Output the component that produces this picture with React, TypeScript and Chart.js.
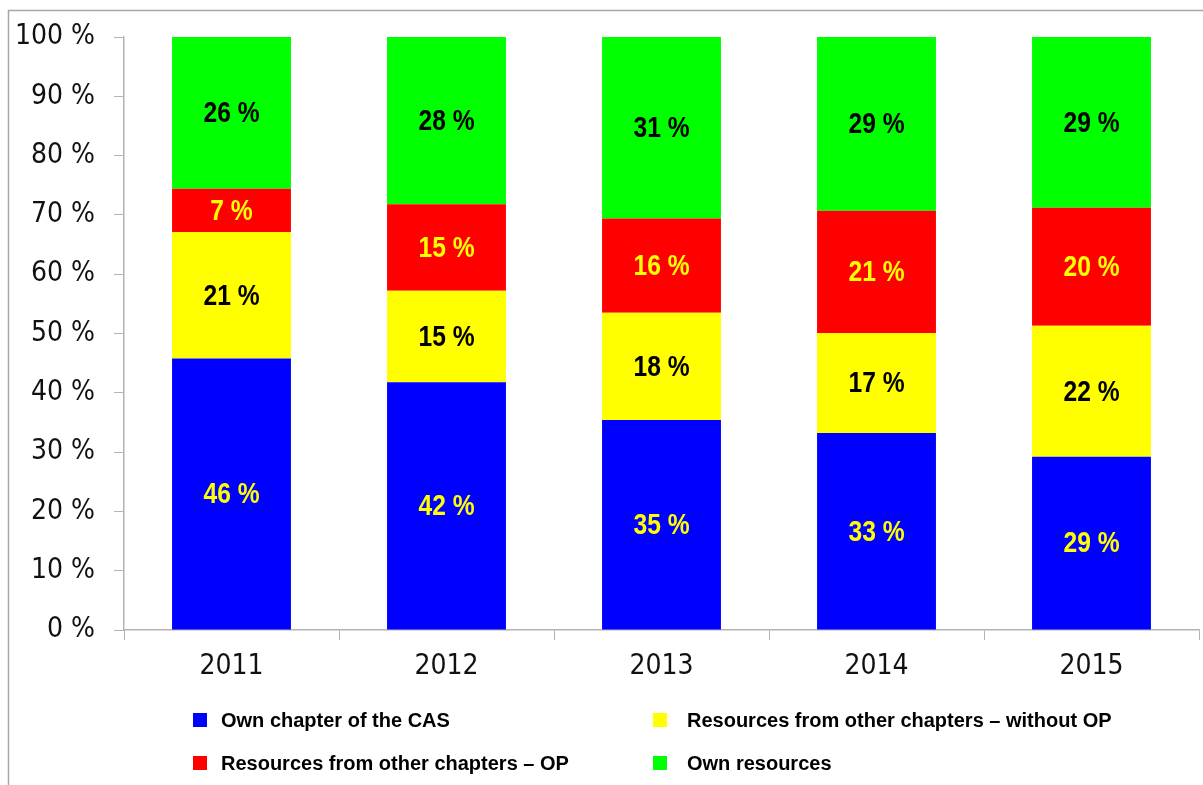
import React, { useEffect, useRef } from "react";
import { Chart, registerables } from "chart.js";

Chart.register(...registerables);

const years = ["2011", "2012", "2013", "2014", "2015"];
const ownChapter = [45.8, 41.8, 35.4, 33.2, 29.2];
const otherWithoutOP = [21.3, 15.4, 18.1, 16.9, 22.1];
const otherOP = [7.3, 14.6, 15.9, 20.6, 19.9];
const ownResources = [25.6, 28.2, 30.6, 29.3, 28.8];
const seriesNames = [
  "Own chapter of the CAS",
  "Resources from other chapters – without OP",
  "Resources from other chapters – OP",
  "Own resources",
];
const seriesColors = ["#0000FF", "#FFFF00", "#FF0000", "#00FF00"];
const labelColors = ["#FFFF00", "#000000", "#FFFF00", "#000000"];

const NARROW = "'DejaVu Sans Condensed', 'Liberation Sans Narrow', sans-serif";

const framePlugin = {
  id: "frame",
  beforeDraw(chart: any) {
    const ctx = chart.ctx;
    ctx.save();
    ctx.fillStyle = "#ffffff";
    ctx.fillRect(0, 0, chart.width, chart.height);
    ctx.strokeStyle = "#a6a6a6";
    ctx.lineWidth = 1.5;
    ctx.strokeRect(8.5, 10.5, chart.width + 20, chart.height + 20);
    ctx.restore();
  },
};

const valueLabelPlugin = {
  id: "valueLabels",
  afterDatasetsDraw(chart: any) {
    const ctx = chart.ctx;
    const sx = 0.82;
    chart.data.datasets.forEach((ds: any, i: number) => {
      const meta = chart.getDatasetMeta(i);
      meta.data.forEach((bar: any, j: number) => {
        const v = ds.data[j];
        const c = bar.getCenterPoint();
        ctx.save();
        ctx.translate(c.x, c.y);
        ctx.scale(sx, 1);
        ctx.font = "bold 30px 'Liberation Sans', Arial, sans-serif";
        ctx.textAlign = "center";
        ctx.textBaseline = "middle";
        ctx.fillStyle = labelColors[i];
        ctx.fillText(Math.round(v) + " %", 0, 1);
        ctx.restore();
      });
    });
  },
};

const gridLegendPlugin = {
  id: "gridLegend",
  afterDraw(chart: any) {
    const ctx = chart.ctx;
    const boxX = [193, 653];
    const textX = [221, 687];
    const rowY = [720, 763];
    ctx.save();
    ctx.font = "bold 20px 'Liberation Sans', Arial, sans-serif";
    ctx.textBaseline = "middle";
    ctx.textAlign = "left";
    chart.data.datasets.forEach((ds: any, i: number) => {
      const col = i % 2;
      const y = rowY[Math.floor(i / 2)];
      ctx.fillStyle = ds.backgroundColor;
      ctx.fillRect(boxX[col], y - 7, 14, 14);
      ctx.fillStyle = "#000000";
      ctx.fillText(ds.label, textX[col], y + 1);
    });
    ctx.restore();
  },
};

export default function App() {
  const ref = useRef<HTMLCanvasElement | null>(null);
  useEffect(() => {
    if (!ref.current) return;
    const seriesData = [ownChapter, otherWithoutOP, otherOP, ownResources];
    const chart = new Chart(ref.current, {
      type: "bar",
      data: {
        labels: years,
        datasets: seriesData.map((d, i) => ({
          label: seriesNames[i],
          data: d,
          backgroundColor: seriesColors[i],
          borderWidth: 0,
          categoryPercentage: 1,
          barPercentage: 0.553,
        })),
      },
      options: {
        animation: false,
        responsive: true,
        maintainAspectRatio: false,
        layout: { padding: { top: 37, right: 4, bottom: 105, left: 0 } },
        plugins: {
          legend: { display: false },
          tooltip: { enabled: false },
        },
        scales: {
          x: {
            stacked: true,
            afterFit: (s: any) => {
              s.height = 50;
            },
            grid: {
              display: true,
              offset: true,
              drawOnChartArea: false,
              drawTicks: true,
              tickLength: 10,
              color: "#b3b3b3",
            },
            border: { display: true, color: "#b3b3b3", width: 1.5 },
            ticks: {
              color: "#111111",
              padding: 10,
              font: { family: NARROW, size: 28 },
            },
          },
          y: {
            stacked: true,
            min: 0,
            max: 100,
            afterFit: (s: any) => {
              s.width = 124;
            },
            grid: {
              display: true,
              drawOnChartArea: false,
              drawTicks: true,
              tickLength: 10,
              color: "#b3b3b3",
            },
            border: { display: true, color: "#b3b3b3", width: 1.5 },
            ticks: {
              stepSize: 10,
              color: "#111111",
              padding: 19,
              font: { family: NARROW, size: 28 },
              callback: (v: any) => v + " %",
            },
          },
        },
      },
      plugins: [framePlugin, valueLabelPlugin, gridLegendPlugin],
    });
    return () => chart.destroy();
  }, []);
  return (
    <div style={{ position: "fixed", left: 0, top: 0, width: 1203, height: 785 }}>
      <canvas ref={ref} />
    </div>
  );
}
